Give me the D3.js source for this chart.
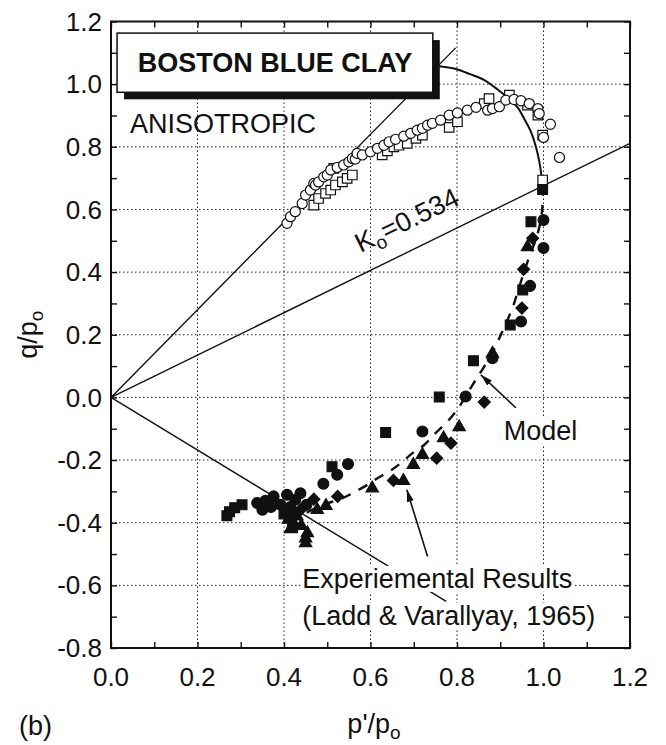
<!DOCTYPE html>
<html>
<head>
<meta charset="utf-8">
<script src="https://cdn.jsdelivr.net/npm/d3@7"></script>
<style>
  body { margin: 0; background: #fff; }
  svg text { font-family: Arial, "Liberation Sans", Helvetica, sans-serif; fill: #111; }
</style>
</head>
<body>
<div id="chart"></div>
<script>
// ---- data (p'/po, q/po) ----
const xTickValues = [0, 0.2, 0.4, 0.6, 0.8, 1.0, 1.2];
const yTickValues = [-0.8, -0.6, -0.4, -0.2, 0, 0.2, 0.4, 0.6, 0.8, 1.0, 1.2];
const xGridValues = [0.2, 0.4, 0.6, 0.8, 1.0];
const yGridValues = [-0.6, -0.4, -0.2, 0, 0.2, 0.4, 0.6, 0.8, 1.0];

// straight reference lines through the origin: slope q/p and end p
const cslCompression = { slope: 1.40, pEnd: 0.797 };
const cslExtension = { slope: -0.84, pEnd: 0.775 };
const k0Line = { slope: 0.676, pEnd: 1.2 };

// model prediction: solid part (shearing to peak) and dashed part (undrained extension)
const modelSolid = [
  [0.755, 1.058], [0.780, 1.053], [0.801, 1.047], [0.830, 1.032], [0.863, 1.013],
  [0.894, 0.983], [0.917, 0.957], [0.940, 0.926], [0.956, 0.888], [0.971, 0.848],
  [0.983, 0.797], [0.991, 0.748], [0.996, 0.700], [0.998, 0.676]
];
const modelDashed = [
  [0.998, 0.676], [0.997, 0.600], [0.986, 0.520], [0.967, 0.449], [0.955, 0.400],
  [0.941, 0.340], [0.930, 0.292], [0.917, 0.248], [0.903, 0.205], [0.888, 0.160],
  [0.870, 0.115], [0.851, 0.072], [0.836, 0.040], [0.813, -0.013], [0.800, -0.040],
  [0.778, -0.077], [0.751, -0.113], [0.724, -0.152], [0.697, -0.178], [0.670, -0.210],
  [0.643, -0.237], [0.616, -0.258], [0.593, -0.279], [0.558, -0.306], [0.535, -0.322],
  [0.490, -0.343], [0.455, -0.366], [0.425, -0.388]
];

const openCircles = [
  [0.407, 0.556], [0.415, 0.577], [0.426, 0.593], [0.442, 0.619], [0.450, 0.646],
  [0.461, 0.662], [0.469, 0.683], [0.473, 0.678], [0.480, 0.688], [0.492, 0.704],
  [0.500, 0.710], [0.508, 0.726], [0.523, 0.734], [0.538, 0.742], [0.550, 0.752],
  [0.558, 0.763], [0.565, 0.761], [0.569, 0.779], [0.581, 0.774], [0.600, 0.784],
  [0.616, 0.795], [0.631, 0.805], [0.643, 0.816], [0.658, 0.824], [0.677, 0.834],
  [0.693, 0.843], [0.708, 0.853], [0.720, 0.859], [0.732, 0.869], [0.743, 0.875],
  [0.762, 0.885], [0.782, 0.901], [0.801, 0.908], [0.824, 0.917], [0.844, 0.926],
  [0.871, 0.917], [0.882, 0.922], [0.898, 0.928], [0.913, 0.949], [0.932, 0.951],
  [0.948, 0.947], [0.967, 0.938], [0.987, 0.922], [0.990, 0.906], [1.016, 0.872],
  [1.000, 0.830], [1.037, 0.766]
];
const openSquares = [
  [0.469, 0.614], [0.480, 0.635], [0.496, 0.651], [0.508, 0.662], [0.519, 0.678],
  [0.535, 0.688], [0.546, 0.699], [0.558, 0.710], [0.515, 0.731], [0.627, 0.774],
  [0.639, 0.787], [0.654, 0.800], [0.666, 0.805], [0.685, 0.811], [0.705, 0.827],
  [0.720, 0.837], [0.782, 0.862], [0.801, 0.880], [0.863, 0.938], [0.874, 0.954],
  [0.921, 0.965], [0.963, 0.933], [0.987, 0.901], [0.998, 0.837], [0.998, 0.694]
];
const filledSquares = [
  [0.998, 0.664], [0.971, 0.561], [0.952, 0.343], [0.923, 0.231], [0.838, 0.117],
  [0.759, 0.001], [0.635, -0.112], [0.511, -0.221], [0.303, -0.343], [0.286, -0.352],
  [0.274, -0.365], [0.268, -0.378], [0.400, -0.372], [0.420, -0.415]
];
const filledCircles = [
  [1.000, 0.566], [1.000, 0.477], [0.969, 0.356], [0.948, 0.242], [0.882, 0.125],
  [0.820, 0.003], [0.720, -0.109], [0.548, -0.213], [0.523, -0.247], [0.491, -0.276],
  [0.338, -0.337], [0.357, -0.330], [0.376, -0.316], [0.392, -0.343], [0.407, -0.311],
  [0.426, -0.327], [0.438, -0.306], [0.452, -0.343], [0.350, -0.359], [0.370, -0.350],
  [0.415, -0.350]
];
const filledDiamonds = [
  [0.975, 0.508], [0.954, 0.409], [0.950, 0.285], [0.863, -0.015], [0.786, -0.146],
  [0.753, -0.194], [0.653, -0.265], [0.524, -0.316], [0.469, -0.325], [0.438, -0.359],
  [0.420, -0.370]
];
const filledTriangles = [
  [0.963, 0.480], [0.882, 0.140], [0.805, -0.095], [0.769, -0.130], [0.720, -0.183],
  [0.699, -0.215], [0.676, -0.266], [0.604, -0.290], [0.497, -0.346], [0.477, -0.359],
  [0.454, -0.433], [0.450, -0.465], [0.422, -0.401], [0.410, -0.390], [0.430, -0.380],
  [0.440, -0.410], [0.450, -0.450], [0.415, -0.420]
];

// ---- layout ----
const width = 666, height = 745;
const margin = { top: 21.5, right: 36, bottom: 97, left: 111 };

const svg = d3.select('#chart').append('svg')
  .attr('width', width)
  .attr('height', height);

const x = d3.scaleLinear().domain([0, 1.2]).range([margin.left, width - margin.right]);
const y = d3.scaleLinear().domain([-0.8, 1.2]).range([height - margin.bottom, margin.top]);

const x0 = x(0), x1 = x(1.2), y0 = y(-0.8), y1 = y(1.2);

// dotted grid
svg.append('g').selectAll('line').data(xGridValues).enter().append('line')
  .attr('x1', d => x(d)).attr('x2', d => x(d))
  .attr('y1', y0).attr('y2', y1)
  .attr('stroke', '#222').attr('stroke-width', 1).attr('stroke-dasharray', '1.5,2.5');
svg.append('g').selectAll('line').data(yGridValues).enter().append('line')
  .attr('y1', d => y(d)).attr('y2', d => y(d))
  .attr('x1', x0).attr('x2', x1)
  .attr('stroke', '#222').attr('stroke-width', 1).attr('stroke-dasharray', '1.5,2.5');

// axes: ticks pointing inwards on all four sides
const xMinor = d3.range(0, 1.2001, 0.1);
const yMinor = d3.range(-0.8, 1.2001, 0.1);
svg.append('g').attr('transform', `translate(0,${y0})`)
  .call(d3.axisBottom(x).tickValues(xMinor).tickSize(-6).tickFormat(''));
svg.append('g').attr('transform', `translate(0,${y1})`)
  .call(d3.axisTop(x).tickValues(xMinor).tickSize(-6).tickFormat(''));
svg.append('g').attr('transform', `translate(${x0},0)`)
  .call(d3.axisLeft(y).tickValues(yMinor).tickSize(-6).tickFormat(''));
svg.append('g').attr('transform', `translate(${x1},0)`)
  .call(d3.axisRight(y).tickValues(yMinor).tickSize(-6).tickFormat(''));
svg.selectAll('.domain').remove();
svg.selectAll('.tick line').attr('stroke', '#111').attr('stroke-width', 1.4);

svg.append('rect')
  .attr('x', x0).attr('y', y1).attr('width', x1 - x0).attr('height', y0 - y1)
  .attr('fill', 'none').attr('stroke', '#111').attr('stroke-width', 2);

// tick labels
svg.append('g').selectAll('text').data(xTickValues).enter().append('text')
  .attr('x', d => x(d)).attr('y', y0 + 38)
  .attr('text-anchor', 'middle').attr('font-size', 26)
  .text(d => d3.format('.1f')(d));
svg.append('g').selectAll('text').data(yTickValues).enter().append('text')
  .attr('x', x0 - 9).attr('y', d => y(d)).attr('dy', '0.35em')
  .attr('text-anchor', 'end').attr('font-size', 26)
  .text(d => d3.format('.1f')(d).replace('\u2212', '-'));

// axis titles
const xt = svg.append('text').attr('x', 374).attr('y', 733)
  .attr('text-anchor', 'middle').attr('font-size', 27);
xt.append('tspan').text("p'/p");
xt.append('tspan').attr('font-size', 19).attr('dy', 6).text('o');

const yt = svg.append('text').attr('transform', `translate(37,${(y0 + y1) / 2}) rotate(-90)`)
  .attr('text-anchor', 'middle').attr('font-size', 27);
yt.append('tspan').text('q/p');
yt.append('tspan').attr('font-size', 19).attr('dy', 6).text('o');

svg.append('text').attr('x', 19).attr('y', 735).attr('font-size', 27).text('(b)');

// reference lines
const refLine = d3.line().x(d => x(d[0])).y(d => y(d[1]));
[cslCompression, cslExtension, k0Line].forEach(l => {
  svg.append('path')
    .attr('d', refLine([[0, 0], [l.pEnd, l.slope * l.pEnd]]))
    .attr('fill', 'none').attr('stroke', '#111').attr('stroke-width', 1.4);
});

// model curves
const curve = d3.line().x(d => x(d[0])).y(d => y(d[1])).curve(d3.curveCatmullRom);
svg.append('path').attr('d', curve(modelSolid))
  .attr('fill', 'none').attr('stroke', '#111').attr('stroke-width', 2);
svg.append('path').attr('d', curve(modelDashed))
  .attr('fill', 'none').attr('stroke', '#111').attr('stroke-width', 2.4)
  .attr('stroke-dasharray', '10,9');

// markers
function drawMarkers(data, type, size, fill, rotate) {
  svg.append('g').selectAll('path').data(data).enter().append('path')
    .attr('d', d3.symbol().type(type).size(size))
    .attr('transform', d => `translate(${x(d[0])},${y(d[1])})${rotate ? ' rotate(45)' : ''}`)
    .attr('fill', fill).attr('stroke', '#111').attr('stroke-width', 1.2);
}
drawMarkers(openSquares, d3.symbolSquare, 90, '#fff');
drawMarkers(openCircles, d3.symbolCircle, 80, '#fff');
drawMarkers(filledSquares, d3.symbolSquare, 96, '#111');
drawMarkers(filledCircles, d3.symbolCircle, 92, '#111');
drawMarkers(filledDiamonds, d3.symbolSquare, 72, '#111', true);
drawMarkers(filledTriangles, d3.symbolTriangle, 66, '#111');

// title box with drop shadow
const box = { p0: 0.014, p1: 0.744, q0: 1.163, q1: 0.974 };
svg.append('rect')
  .attr('x', x(box.p0) + 7).attr('y', y(box.q0) + 7)
  .attr('width', x(box.p1) - x(box.p0)).attr('height', y(box.q1) - y(box.q0))
  .attr('fill', '#111');
svg.append('rect')
  .attr('x', x(box.p0)).attr('y', y(box.q0))
  .attr('width', x(box.p1) - x(box.p0)).attr('height', y(box.q1) - y(box.q0))
  .attr('fill', '#fff').attr('stroke', '#111').attr('stroke-width', 1.5);
svg.append('text')
  .attr('x', (x(box.p0) + x(box.p1)) / 2).attr('y', y(1.039))
  .attr('text-anchor', 'middle').attr('font-size', 27).attr('font-weight', 'bold')
  .text('BOSTON BLUE CLAY');

svg.append('text').attr('x', x(0.044)).attr('y', y(0.845))
  .attr('font-size', 27).text('ANISOTROPIC');

// K0 label along the line
const k0Text = svg.append('text')
  .attr('transform', `translate(${x(0.577)},${y(0.461)}) rotate(-26)`)
  .attr('font-size', 27);
k0Text.append('tspan').text('K');
k0Text.append('tspan').attr('font-size', 19).attr('dy', 6).text('o');
k0Text.append('tspan').attr('dy', -6).text('=0.534');

// arrows
svg.append('defs').append('marker')
  .attr('id', 'arrow').attr('viewBox', '0 0 12 8')
  .attr('refX', 12).attr('refY', 4)
  .attr('markerWidth', 12).attr('markerHeight', 8)
  .attr('markerUnits', 'userSpaceOnUse').attr('orient', 'auto')
  .append('path').attr('d', 'M0,0.5 L12,4 L0,7.5 Z').attr('fill', '#111');

function arrow(from, to) {
  svg.append('line')
    .attr('x1', x(from[0])).attr('y1', y(from[1]))
    .attr('x2', x(to[0])).attr('y2', y(to[1]))
    .attr('stroke', '#111').attr('stroke-width', 1.6)
    .attr('marker-end', 'url(#arrow)');
}
arrow([0.936, -0.033], [0.855, 0.072]);
arrow([0.732, -0.508], [0.684, -0.295]);

// labels with white background
function label(lines, px, q, lineGap) {
  lines.forEach((t, i) => {
    const tx = svg.append('text').attr('x', x(px)).attr('y', y(q) + i * lineGap)
      .attr('font-size', 27).text(t);
    const b = tx.node().getBBox();
    svg.insert('rect', () => tx.node())
      .attr('x', b.x - 1).attr('y', b.y + 2).attr('width', b.width + 2).attr('height', b.height - 4)
      .attr('fill', '#fff');
  });
}
label(['Model'], 0.908, -0.136, 0);
label(['Experiemental Results', '(Ladd & Varallyay, 1965)'], 0.442, -0.608, 37);
</script>
</body>
</html>
